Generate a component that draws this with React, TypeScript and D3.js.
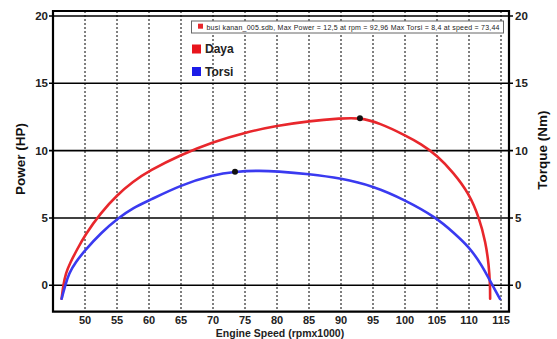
import { useEffect, useRef } from "react";
import * as d3 from "d3";

// Daya (power, HP) vs engine speed
const dayaRpm = [46.35, 46.6, 47.0, 47.7, 48.7, 50, 52.5, 55, 57.5, 60, 65, 70, 75, 80, 85, 90, 92.96, 96, 100, 102.5, 105, 107.5, 110, 111.6, 112.6, 113.1, 113.3, 113.3];
const dayaVal = [-1.0, 0, 0.9, 1.7, 2.6, 3.74, 5.4, 6.7, 7.7, 8.5, 9.7, 10.65, 11.35, 11.85, 12.2, 12.4, 12.45, 12.05, 11.15, 10.5, 9.65, 8.4, 6.83, 5.0, 3.2, 1.5, 0, -1.0];

// Torsi (torque, Nm) vs engine speed
const torsiRpm = [46.35, 46.9, 47.5, 48.5, 50, 52.5, 55.2, 57.5, 60, 65, 70, 73.44, 77, 80, 85, 90, 95, 100, 105, 107.5, 110, 112, 113.65, 114.84];
const torsiVal = [-1.0, 0, 0.9, 1.7, 2.6, 3.9, 5.0, 5.75, 6.3, 7.45, 8.2, 8.44, 8.52, 8.47, 8.27, 7.95, 7.38, 6.34, 5.0, 3.95, 2.87, 1.5, 0, -1.0];

const xTicks = [50, 55, 60, 65, 70, 75, 80, 85, 90, 95, 100, 105, 110, 115];
const yTicks = [0, 5, 10, 15, 20];

const maxPower = { rpm: 92.96, value: 12.4 };
const maxTorsi = { rpm: 73.44, value: 8.44 };

const legendText = "busi kanan_005.sdb, Max Power = 12,5 at rpm = 92,96 Max Torsi = 8,4 at speed = 73,44";

export default function App() {
  const svgRef = useRef<SVGSVGElement>(null);

  useEffect(() => {
    d3.select(svgRef.current).selectAll("*").remove();

    const W = 557, H = 339;
    const left = 53, right = 509, top = 11, bottom = 311.7;
    const font = "'Liberation Sans', Arial, sans-serif";

    const svg = d3.select(svgRef.current)
      .attr("width", W)
      .attr("height", H)
      .style("font-family", font);

    svg.append("rect").attr("width", W).attr("height", H).attr("fill", "#fff");

    const x = d3.scaleLinear().domain([45, 116.25]).range([left, right]);
    const y = d3.scaleLinear().domain([-1.96, 20.37]).range([bottom, top]);

    // vertical dotted grid
    svg.append("g")
      .selectAll("line")
      .data(xTicks)
      .enter()
      .append("line")
      .attr("x1", d => x(d)).attr("x2", d => x(d))
      .attr("y1", top).attr("y2", bottom)
      .attr("stroke", "#000")
      .attr("stroke-width", 1)
      .attr("stroke-dasharray", "2,2");

    // horizontal solid grid
    svg.append("g")
      .selectAll("line")
      .data(yTicks)
      .enter()
      .append("line")
      .attr("x1", left - 4).attr("x2", right + 4)
      .attr("y1", d => y(d)).attr("y2", d => y(d))
      .attr("stroke", "#000")
      .attr("stroke-width", 1.6);

    // frame
    svg.append("path")
      .attr("d", `M${left},${top}H${right}V${bottom}H${left}Z`)
      .attr("fill", "none")
      .attr("stroke", "#000")
      .attr("stroke-width", 2.2);

    // y tick labels left and right
    svg.append("g")
      .selectAll("text")
      .data(yTicks)
      .enter()
      .append("text")
      .attr("x", left - 5)
      .attr("y", d => y(d) + 4)
      .attr("text-anchor", "end")
      .attr("font-size", 11.5)
      .attr("font-weight", "bold")
      .attr("fill", "#222")
      .text(d => d);

    svg.append("g")
      .selectAll("text")
      .data(yTicks)
      .enter()
      .append("text")
      .attr("x", right + 6)
      .attr("y", d => y(d) + 4)
      .attr("font-size", 11.5)
      .attr("font-weight", "bold")
      .attr("fill", "#222")
      .text(d => d);

    // x tick labels
    svg.append("g")
      .selectAll("text")
      .data(xTicks)
      .enter()
      .append("text")
      .attr("x", d => x(d))
      .attr("y", 324)
      .attr("text-anchor", "middle")
      .attr("font-size", 11)
      .attr("font-weight", "bold")
      .attr("fill", "#222")
      .text(d => d);

    // axis titles
    svg.append("text")
      .attr("transform", "translate(25,159) rotate(-90)")
      .attr("text-anchor", "middle")
      .attr("font-size", 13.5)
      .attr("font-weight", "bold")
      .attr("fill", "#111")
      .text("Power (HP)");

    svg.append("text")
      .attr("transform", "translate(547,150) rotate(-90)")
      .attr("text-anchor", "middle")
      .attr("font-size", 13.5)
      .attr("font-weight", "bold")
      .attr("fill", "#111")
      .text("Torque (Nm)");

    svg.append("text")
      .attr("x", 280)
      .attr("y", 336.5)
      .attr("text-anchor", "middle")
      .attr("font-size", 10.5)
      .attr("font-weight", "bold")
      .attr("fill", "#222")
      .text("Engine Speed (rpmx1000)");

    // curves (smoothed through the read points)
    const line = d3.line<[number, number]>()
      .x(d => x(d[0]))
      .y(d => y(d[1]))
      .curve(d3.curveBasis);

    const series = [
      { rpm: dayaRpm, val: dayaVal, color: "#e8272c" },
      { rpm: torsiRpm, val: torsiVal, color: "#3a3af0" },
    ];

    series.forEach(s => {
      const pts = s.rpm.map((r, i) => [r, s.val[i]] as [number, number]);
      svg.append("path")
        .attr("d", line(pts))
        .attr("fill", "none")
        .attr("stroke", s.color)
        .attr("stroke-width", 2.6)
        .attr("stroke-linecap", "round");
    });

    svg.append("g")
      .selectAll("circle")
      .data([maxPower, maxTorsi])
      .enter()
      .append("circle")
      .attr("cx", d => x(d.rpm))
      .attr("cy", d => y(d.value))
      .attr("r", 3)
      .attr("fill", "#111");

    // legend box
    svg.append("rect")
      .attr("x", 191.5).attr("y", 21)
      .attr("width", 312).attr("height", 12)
      .attr("fill", "#fff")
      .attr("stroke", "#666")
      .attr("stroke-width", 1);
    svg.append("rect")
      .attr("x", 198).attr("y", 23.7)
      .attr("width", 5).attr("height", 5)
      .attr("fill", "#e8272c");
    svg.append("text")
      .attr("x", 206.5).attr("y", 29.5)
      .attr("font-size", 7)
      .attr("textLength", 293)
      .attr("fill", "#222")
      .text(legendText);

    const legend = svg.append("g");
    const items = [
      { name: "Daya", color: "#e8141c" },
      { name: "Torsi", color: "#1c1ce8" },
    ];
    const rows = legend.selectAll("g")
      .data(items)
      .enter()
      .append("g")
      .attr("transform", (d, i) => `translate(192, ${44.5 + i * 22.5})`);
    rows.append("rect")
      .attr("width", 9).attr("height", 9)
      .attr("fill", d => d.color);
    rows.append("text")
      .attr("x", 13)
      .attr("y", 8.5)
      .attr("font-size", 12)
      .attr("font-weight", "bold")
      .attr("fill", "#222")
      .text(d => d.name);
  }, []);

  return <svg ref={svgRef} style={{ position: "absolute", left: 0, top: 0 }}></svg>;
}
